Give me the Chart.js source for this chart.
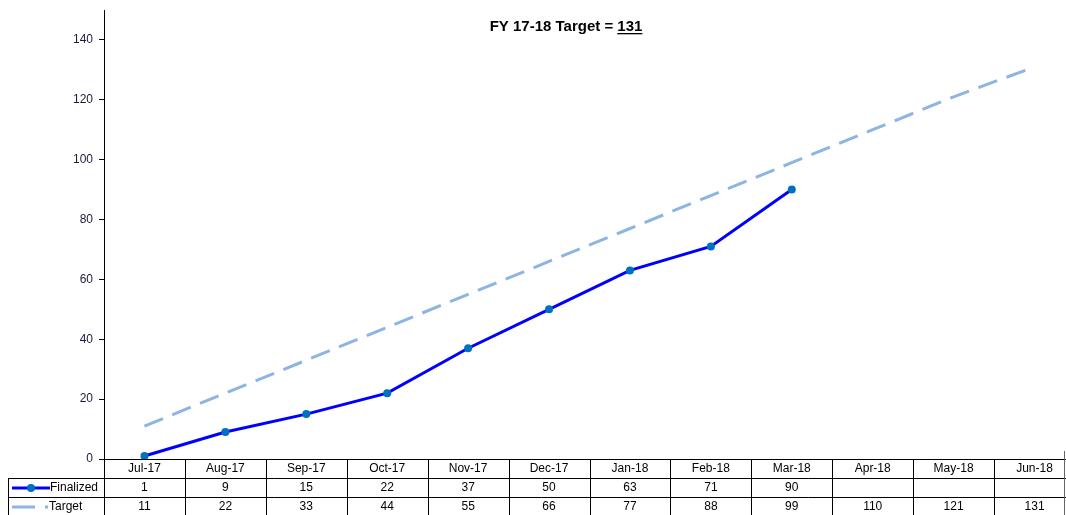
<!DOCTYPE html>
<html>
<head>
<meta charset="utf-8">
<script src="https://cdn.jsdelivr.net/npm/chart.js@4/dist/chart.umd.min.js"></script>
<style>
  html, body { margin: 0; padding: 0; background: #fff; }
  #wrap { width: 1066px; height: 515px; overflow: hidden; position: relative; }
  #c { display: block; }
</style>
</head>
<body>
<div id="wrap"><canvas id="c" width="1080" height="515"></canvas></div>
<script>
// chart data
var months = ['Jul-17','Aug-17','Sep-17','Oct-17','Nov-17','Dec-17','Jan-18','Feb-18','Mar-18','Apr-18','May-18','Jun-18'];
var finalized = [1, 9, 15, 22, 37, 50, 63, 71, 90, null, null, null];
var target = [11, 22, 33, 44, 55, 66, 77, 88, 99, 110, 121, 131];
var yMax = 150;
var yStep = 20;
var titleText = 'FY 17-18 Target = ';
var titleValue = '131';

var FINAL_COLOR = '#0000ff';
var DOT_COLOR = '#0070c0';
var TARGET_COLOR = '#8db4e2';

// title with underlined number
var titlePlugin = {
  id: 'titlePlugin',
  afterDraw: function(chart){
    var ctx = chart.ctx;
    ctx.save();
    ctx.font = 'bold 15px "Liberation Sans", Arial, sans-serif';
    ctx.fillStyle = '#000';
    ctx.textBaseline = 'alphabetic';
    var w1 = ctx.measureText(titleText).width;
    var w2 = ctx.measureText(titleValue).width;
    var x0 = 566 - (w1 + w2) / 2;
    var y = 31;
    ctx.textAlign = 'left';
    ctx.fillText(titleText, x0, y);
    ctx.fillText(titleValue, x0 + w1, y);
    ctx.fillRect(x0 + w1, y + 2, w2, 1.3);
    ctx.restore();
  }
};

// excel style data table under the plot
var tablePlugin = {
  id: 'tablePlugin',
  afterDraw: function(chart){
    var ctx = chart.ctx;
    var area = chart.chartArea;
    var xs = chart.scales.x;
    var colW = (area.right - area.left) / months.length;
    var top = Math.round(area.bottom);
    var r1 = top + 19, r2 = top + 38, bot = chart.height;
    ctx.save();
    ctx.strokeStyle = '#000';
    ctx.lineWidth = 1;
    ctx.beginPath();
    ctx.moveTo(area.left - 5, top + 0.5); ctx.lineTo(area.right, top + 0.5);
    ctx.moveTo(8, r1 + 0.5); ctx.lineTo(area.right, r1 + 0.5);
    ctx.moveTo(8, r2 + 0.5); ctx.lineTo(area.right, r2 + 0.5);
    ctx.moveTo(8.5, r1); ctx.lineTo(8.5, bot);
    for (var i = 0; i <= months.length; i++) {
      var vx = Math.round(area.left + i * colW) + 0.5;
      ctx.moveTo(vx, top); ctx.lineTo(vx, bot);
    }
    ctx.stroke();
    ctx.strokeStyle = '#666';
    ctx.beginPath();
    ctx.moveTo(1064.5, top - 8); ctx.lineTo(1064.5, bot);
    ctx.stroke();

    ctx.font = '12px "Liberation Sans", Arial, sans-serif';
    ctx.fillStyle = '#000';
    ctx.textAlign = 'center';
    ctx.textBaseline = 'middle';
    for (var j = 0; j < months.length; j++) {
      var cx = xs.getPixelForValue(j);
      ctx.fillText(months[j], cx, top + 10);
      if (finalized[j] != null) ctx.fillText(String(finalized[j]), cx, r1 + 10);
      ctx.fillText(String(target[j]), cx, r2 + 10);
    }

    // legend keys
    ctx.lineCap = 'butt';
    ctx.strokeStyle = FINAL_COLOR;
    ctx.lineWidth = 3;
    ctx.beginPath();
    ctx.moveTo(12, r1 + 10); ctx.lineTo(50, r1 + 10);
    ctx.stroke();
    ctx.fillStyle = DOT_COLOR;
    ctx.beginPath();
    ctx.arc(31, r1 + 10, 4, 0, Math.PI * 2);
    ctx.fill();
    ctx.strokeStyle = TARGET_COLOR;
    ctx.beginPath();
    ctx.moveTo(12, r2 + 10); ctx.lineTo(35, r2 + 10);
    ctx.moveTo(45, r2 + 10); ctx.lineTo(48, r2 + 10);
    ctx.stroke();
    ctx.fillStyle = '#000';
    ctx.textAlign = 'left';
    ctx.fillText('Finalized', 50, r1 + 10);
    ctx.fillText('Target', 49, r2 + 10);
    ctx.restore();
  }
};

var ctx = document.getElementById('c');
var myChart = new Chart(ctx, {
  type: 'line',
  data: {
    labels: months,
    datasets: [{
      label: 'Target',
      data: target,
      borderColor: TARGET_COLOR,
      borderWidth: 3,
      borderDash: [20, 10],
      pointRadius: 0,
      fill: false,
      tension: 0,
      order: 2
    }, {
      label: 'Finalized',
      data: finalized,
      borderColor: FINAL_COLOR,
      borderWidth: 3,
      pointRadius: 4,
      pointBackgroundColor: DOT_COLOR,
      pointBorderWidth: 0,
      fill: false,
      tension: 0,
      order: 1
    }]
  },
  options: {
    responsive: false,
    animation: false,
    clip: false,
    layout: { padding: { top: 10, bottom: 56, left: 0, right: 5 } },
    plugins: {
      legend: { display: false },
      tooltip: { enabled: false },
      title: { display: false }
    },
    scales: {
      x: {
        display: false,
        offset: true
      },
      y: {
        min: 0,
        max: yMax,
        afterFit: function(scale){
          scale.width = 104;
          scale.paddingTop = 0;
          scale.paddingBottom = 0;
        },
        afterBuildTicks: function(scale){
          scale.ticks = scale.ticks.filter(function(t){ return t.value % yStep === 0; });
        },
        ticks: {
          stepSize: yStep,
          padding: 6,
          color: '#1b1b3c',
          font: { family: '"Liberation Sans", Arial, sans-serif', size: 12 }
        },
        grid: {
          drawOnChartArea: false,
          drawTicks: true,
          tickLength: 5,
          color: '#000'
        },
        border: { display: true, color: '#000', width: 1 }
      }
    }
  },
  plugins: [titlePlugin, tablePlugin]
});
</script>
</body>
</html>
